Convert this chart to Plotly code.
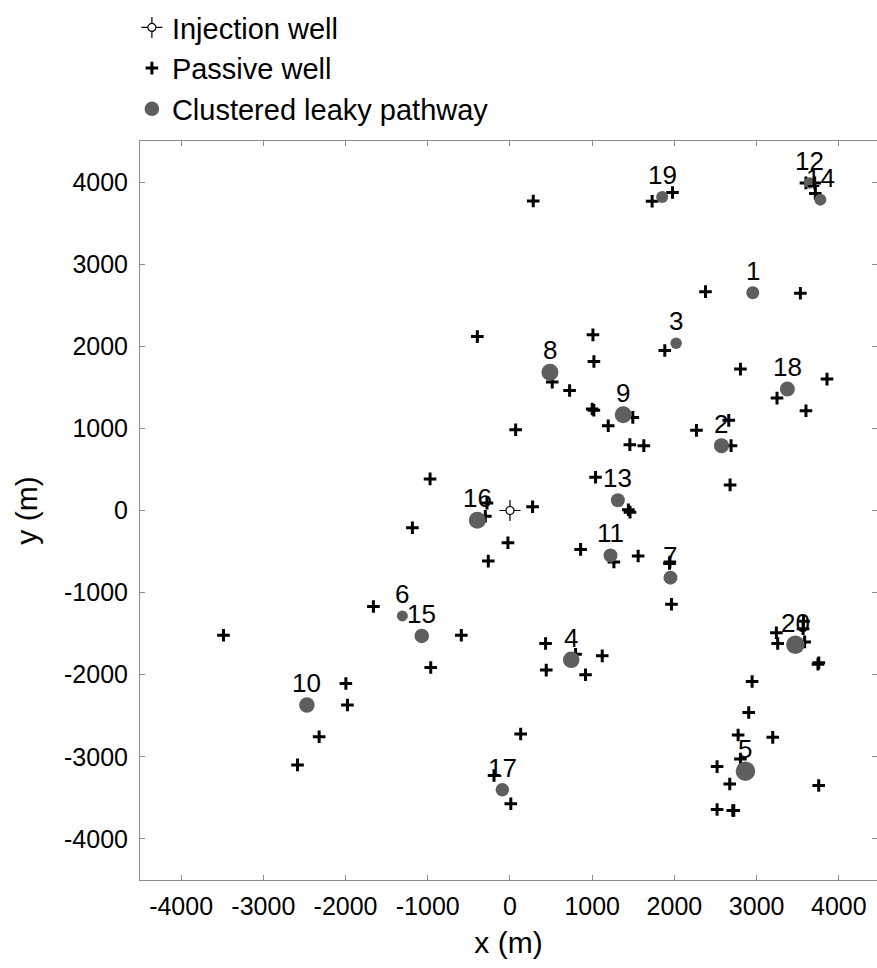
import plotly.graph_objects as go

# Injection well location (m)
inj_x = [0]
inj_y = [0]

# Passive wells (m)
passive_x = [283, 1729, 1977, 3600, 3706, 3714, 2378, 3532, 1883, 1009,
             1021, 514, 725, 1000, 1020, 1494, 1195, 69, 1458, 1628,
             2268, 2661, 2689, 2677, 2803, 3248, 3856, 3600, 1041, 275,
             1440, 1460, -397, -972, -280, -300, -1187, -25, -264, 859,
             1264, 1559, 1940, 1945, 1964, 433, 798, 1122, 441, 919,
             130, -194, 10, 3240, 3256, 3570, 3565, 3584, 3746, 3756,
             2945, 2904, 2775, 3196, 2803, 2519, 2673, 2519, 2722, 2710,
             3755, -1661, -592, -964, -3484, -1996, -1977, -2321, -2584]
passive_y = [3770, 3767, 3873, 3990, 3990, 3862, 2665, 2645, 1948, 2139,
             1814, 1564, 1462, 1236, 1220, 1134, 1033, 984, 802, 790,
             976, 1098, 790, 312, 1722, 1369, 1600, 1215, 405, 45,
             10, -20, 2118, 385, 90, -70, -210, -392, -616, -474,
             -628, -555, -645, -628, -1142, -1620, -1750, -1770, -1944, -2001,
             -2722, -3228, -3572, -1488, -1620, -1350, -1440, -1600, -1871, -1855,
             -2083, -2460, -2734, -2763, -3026, -3119, -3330, -3642, -3654, -3654,
             -3350, -1170, -1519, -1912, -1519, -2106, -2369, -2755, -3098]

# Clustered leaky pathways: id, location (m) and marker diameter (px)
cluster_id = [1, 2, 3, 4, 5, 6, 7, 8, 9, 10,
              11, 12, 13, 14, 15, 16, 17, 18, 19, 20]
cluster_x = [2953, 2572, 2021, 745, 2864, -1309, 1952, 486, 1377, -2470,
             1223, 3645, 1312, 3775, -1073, -397, -93, 3374, 1851, 3471]
cluster_y = [2653, 790, 2037, -1819, -3175, -1284, -818, 1685, 1166, -2369,
             -547, 3990, 125, 3786, -1527, -118, -3400, 1479, 3819, -1636]
cluster_size = [13, 15, 11.5, 16.5, 19.5, 11, 14, 17, 17, 15.5,
                14, 11.5, 14, 12, 14.5, 17, 13.5, 15, 12, 18.5]

ticks = [-4000, -3000, -2000, -1000, 0, 1000, 2000, 3000, 4000]

FONT = "Liberation Sans, Arial, Helvetica, sans-serif"
FRAME = "#8c8c8c"

fig = go.Figure()

fig.add_trace(go.Scatter(
    x=passive_x, y=passive_y, mode="markers", name="Passive well",
    legendrank=2,
    marker=dict(symbol="cross-thin", size=9, color="black",
                line=dict(color="black", width=3)),
))

fig.add_trace(go.Scatter(
    x=cluster_x, y=cluster_y, mode="markers", name="Clustered leaky pathway",
    legendrank=3,
    marker=dict(symbol="circle", size=cluster_size, color="#5e5e5e",
                opacity=1, line=dict(width=0)),
))

# Injection well: thin crosshair with a small open circle on top
fig.add_trace(go.Scatter(
    x=inj_x, y=inj_y, mode="markers", name="Injection well",
    legendrank=1,
    marker=dict(symbol="cross-thin", size=15, color="black",
                line=dict(color="black", width=1.2)),
))
fig.add_trace(go.Scatter(
    x=inj_x, y=inj_y, mode="markers", name=" ", legend="legend2",
    marker=dict(symbol="circle", size=8, color="white",
                line=dict(color="black", width=1.2)),
))

# Cluster number labels above each pathway
for cid, cx, cy in zip(cluster_id, cluster_x, cluster_y):
    fig.add_annotation(x=cx, y=cy, text=str(cid), showarrow=False,
                       yshift=22, font=dict(size=26, color="black", family=FONT))

axis_common = dict(
    tickmode="array", tickvals=ticks, ticktext=[str(t) for t in ticks],
    ticks="inside", ticklen=5, tickwidth=1, tickcolor=FRAME,
    showline=True, linecolor=FRAME, linewidth=1, mirror="ticks",
    showgrid=False, zeroline=False,
    tickfont=dict(size=25, color="black", family=FONT),
    title_font=dict(size=30, color="black", family=FONT),
)

fig.update_xaxes(range=[-4500, 4464], title_text="x (m)",
                 ticklabelstandoff=4, title_standoff=12, **axis_common)
fig.update_yaxes(range=[-4500, 4500], title_text="y (m)",
                 ticklabelstandoff=6, title_standoff=17, **axis_common)

legend_common = dict(
    x=-0.011, y=1.188, xanchor="left", yanchor="top",
    bgcolor="rgba(0,0,0,0)", borderwidth=0,
    font=dict(size=29, color="black", family=FONT),
    itemsizing="trace",
)

fig.update_layout(
    width=877, height=968,
    margin=dict(l=140, r=0, t=141, b=88),
    paper_bgcolor="white", plot_bgcolor="white",
    font=dict(family=FONT, color="black"),
    showlegend=True,
    legend=legend_common,
    legend2=legend_common,
)

fig.write_html("out.html")
